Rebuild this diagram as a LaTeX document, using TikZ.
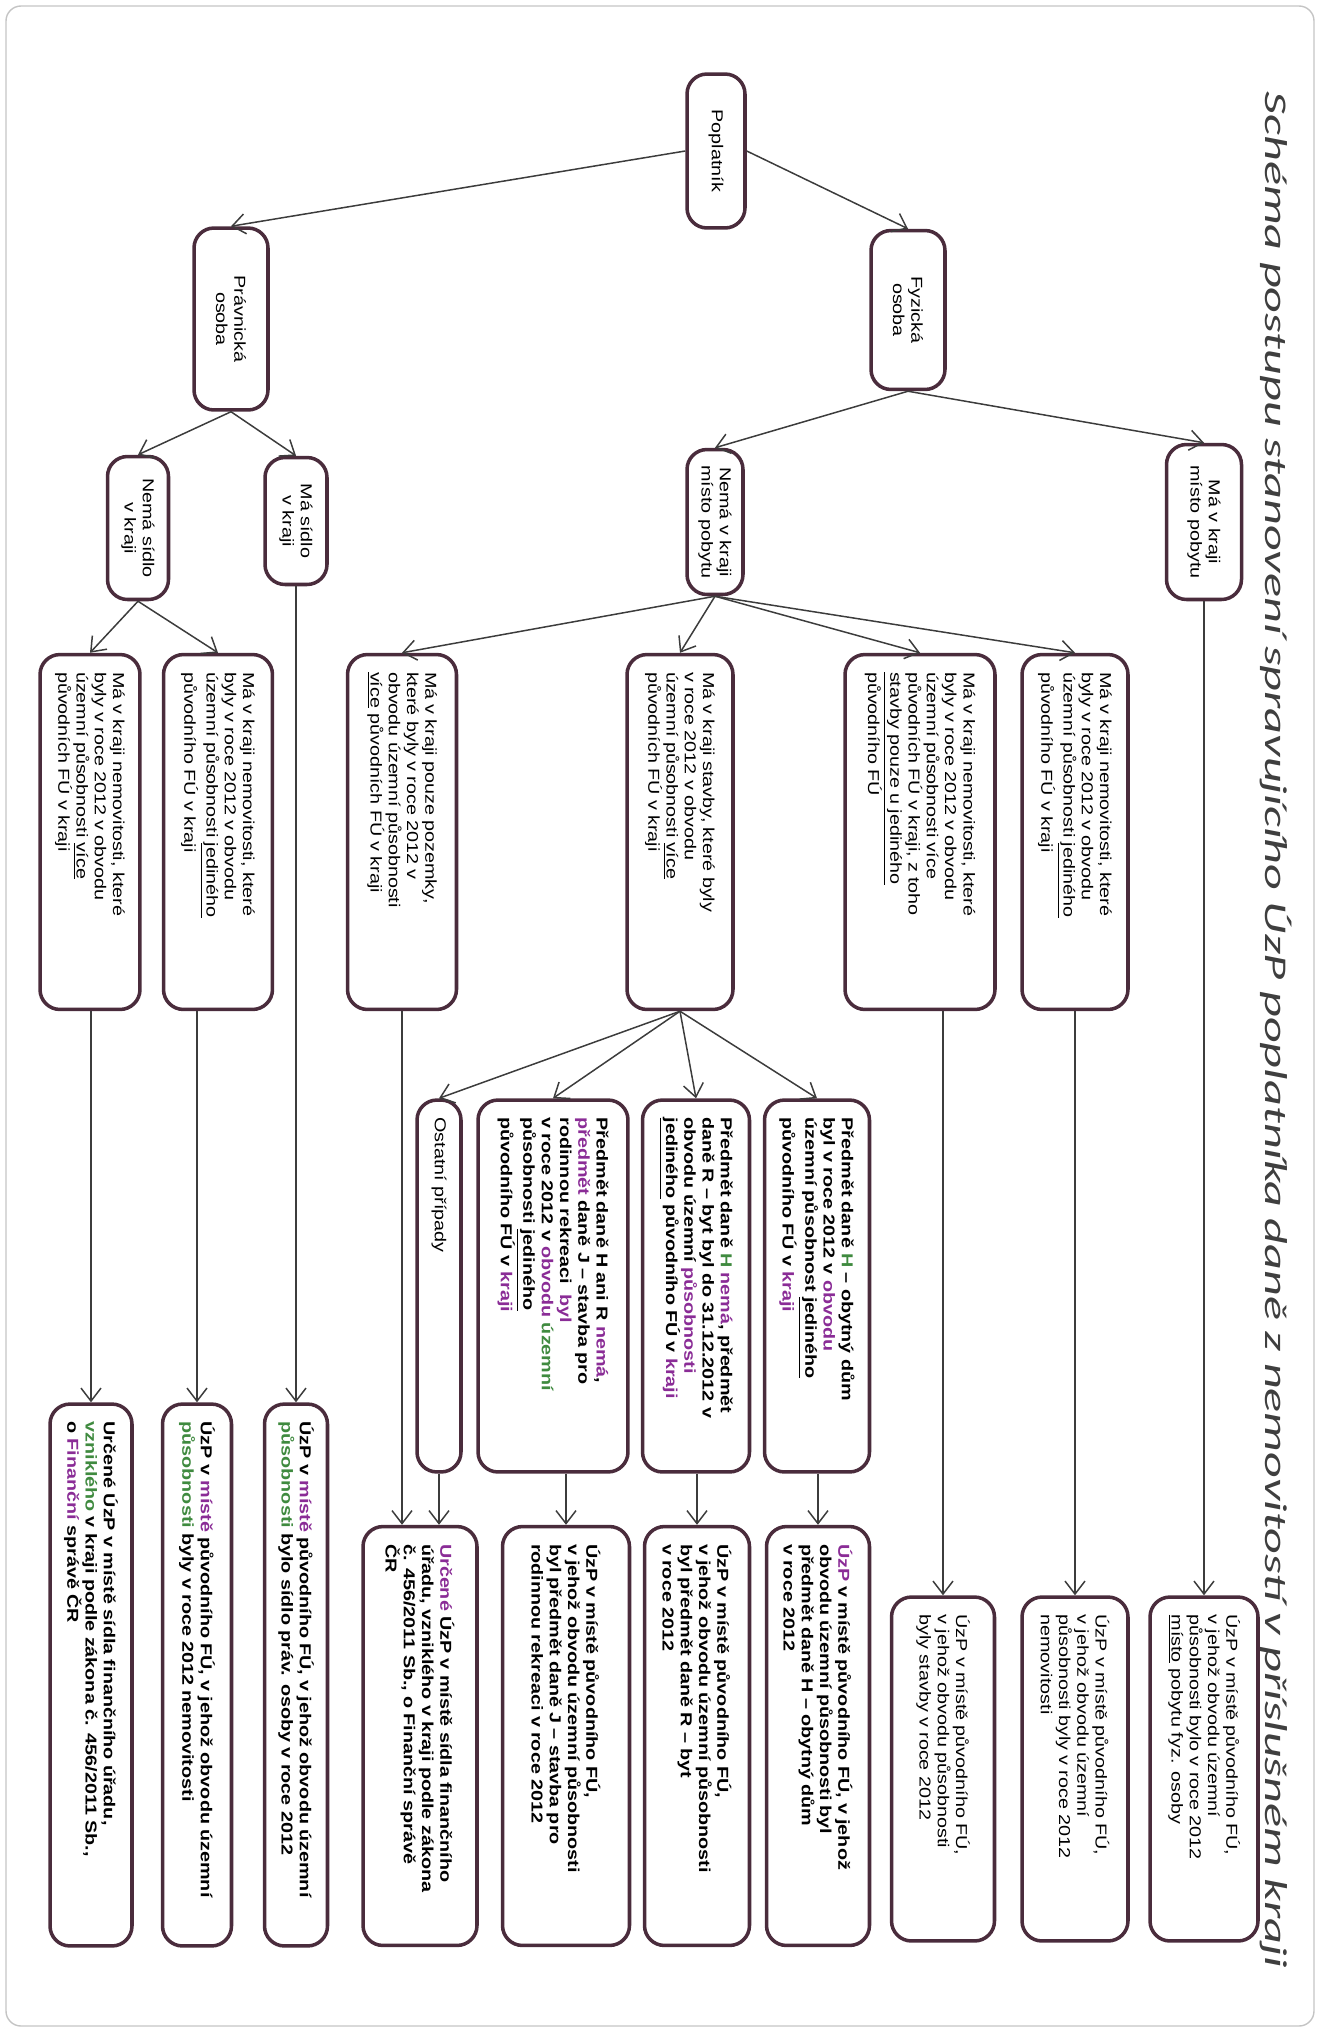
\documentclass[tikz,border=0pt]{standalone}
\usepackage{fontspec}
\setmainfont{Liberation Sans}[FakeStretch=1.25]
\newfontfamily\titlefont{Carlito}[FakeStretch=1.59]
\usetikzlibrary{arrows.meta}

\definecolor{boxline}{HTML}{4A2C3C}
\definecolor{linkgray}{HTML}{3C3C3C}
\definecolor{titlegray}{HTML}{3F3F3F}
\definecolor{framegray}{HTML}{C4C4C4}
\definecolor{hlpurple}{HTML}{8A2C96}
\definecolor{hlgreen}{HTML}{3F8A3F}
\newcommand{\hlp}[1]{\textcolor{hlpurple}{#1}}
\newcommand{\hlg}[1]{\textcolor{hlgreen}{#1}}

\begin{document}
\begin{tikzpicture}[
    x=0.02cm, y=-0.02cm,
    roundbox/.style={draw=boxline, line width=2pt, rounded corners=0.4cm, fill=white,
        rotate=-90, inner xsep=0.35cm, inner ysep=0.1cm, font=\fontsize{9}{10.4}\selectfont},
    smallbox/.style={roundbox, align=center, inner xsep=0.15cm},
    textbox/.style={roundbox, align=left},
    boldbox/.style={textbox, font=\fontsize{9}{10.4}\selectfont\bfseries},
    link/.style={draw=linkgray, line width=0.85pt, -{Straight Barb[length=2.6mm,width=4mm]}},
]
    \useasboundingbox (0, 0) rectangle (1321, 2032);
    \draw [framegray, line width=0.8pt, rounded corners=0.3cm] (6, 6) rectangle (1314, 2026);

    % Title
    \node at (1276, 1030) [rotate=-90, text=titlegray, font=\titlefont\itshape\fontsize{18}{22}\selectfont](title)
        {Schéma postupu stanovení spravujícího ÚzP poplatníka daně z nemovitostí v příslušném kraji};

    % Level 1 and 2
    \node at (716, 151) [smallbox, minimum width=3.08cm, minimum height=1.16cm](poplatnik){Poplatník};
    \node at (908, 310) [smallbox, minimum width=3.18cm, minimum height=1.48cm](fyzicka){Fyzická\\osoba};
    \node at (231, 319) [smallbox, minimum width=3.64cm, minimum height=1.48cm](pravnicka){Právnická\\osoba};

    % Level 3
    \node at (1204, 522) [smallbox, minimum width=3.1cm, minimum height=1.5cm](ma_pobyt){Má v kraji\\místo pobytu};
    \node at (715, 522) [smallbox, minimum width=2.9cm, minimum height=1.12cm](nema_pobyt){Nemá v kraji\\místo pobytu};
    \node at (296, 521) [smallbox, minimum width=2.54cm, minimum height=1.24cm](ma_sidlo){Má sídlo\\v kraji};
    \node at (138, 528) [smallbox, minimum width=2.86cm, minimum height=1.22cm](nema_sidlo){Nemá sídlo\\v kraji};

    % Level 4
    \node at (1075, 832) [textbox, text width=6.4cm, minimum height=2.12cm](nem_jed){Má v kraji nemovitosti, které\\byly v roce 2012 v obvodu\\územní působnosti \underline{jediného}\\původního FÚ v kraji};
    \node at (920, 832) [textbox, text width=6.4cm, minimum height=3.0cm](stavby_jed){Má v kraji nemovitosti, které\\byly v roce 2012 v obvodu\\územní působnosti více\\původních FÚ v kraji, z toho\\\underline{stavby pouze u jediného}\\původního FÚ};
    \node at (680, 832) [textbox, text width=6.4cm, minimum height=2.12cm](stavby_vice){Má v kraji stavby, které byly\\v roce 2012 v obvodu\\územní působnosti \underline{více}\\původních FÚ v kraji};
    \node at (402, 832) [textbox, text width=6.4cm, minimum height=2.18cm](pozemky){Má v kraji pouze pozemky,\\které byly v roce 2012 v\\obvodu územní působnosti\\\underline{více} původních FÚ v kraji};
    \node at (218, 832) [textbox, text width=6.4cm, minimum height=2.18cm](po_jed){Má v kraji nemovitosti, které\\byly v roce 2012 v obvodu\\územní působnosti \underline{jediného}\\původního FÚ v kraji};
    \node at (90, 832) [textbox, text width=6.4cm, minimum height=2.0cm](po_vice){Má v kraji nemovitosti, které\\byly v roce 2012 v obvodu\\územní působnosti \underline{více}\\původních FÚ v kraji};

    % Level 5
    \node at (817, 1286) [boldbox, text width=6.74cm, minimum height=2.1cm](dan_h){Předmět daně \hlg{H} – obytný dům\\byl v roce 2012 v \hlp{obvodu}\\územní působnost \underline{jediného}\\původního FÚ v \hlp{kraji}};
    \node at (696, 1286) [boldbox, text width=6.74cm, minimum height=2.14cm](dan_r){Předmět daně \hlg{H} \hlp{nemá}, předmět\\daně R – byt byl do 31.12.2012 v\\obvodu územní \hlp{působnosti}\\\underline{jediného} původního FÚ v \hlp{kraji}};
    \node at (553, 1286) [boldbox, text width=6.74cm, minimum height=3.0cm](dan_j){Předmět daně H ani R \hlp{nemá},\\\hlp{předmět} daně J – stavba pro\\rodinnou rekreaci\ \ \hlp{byl}\\v roce 2012 v \hlp{obvodu} \hlg{územní}\\působnosti \underline{jediného}\\původního FÚ v \hlp{kraji}};
    \node at (439, 1286) [textbox, text width=6.74cm, minimum height=0.88cm](ostatni){Ostatní případy};

    % Results
    \node at (1204, 1769) [textbox, text width=6.18cm, minimum height=2.16cm](uzp_pobyt){ÚzP v místě původního FÚ,\\v jehož obvodu územní\\působnosti bylo v roce 2012\\\underline{místo} pobytu fyz. osoby};
    \node at (1075, 1769) [textbox, text width=6.18cm, minimum height=2.12cm](uzp_nem){ÚzP v místě původního FÚ,\\v jehož obvodu územní\\působnosti byly v roce 2012\\nemovitosti};
    \node at (943, 1769) [textbox, text width=6.18cm, minimum height=2.06cm](uzp_stavby){ÚzP v místě původního FÚ,\\v jehož obvodu působnosti\\byly stavby v roce 2012};
    \node at (818, 1736) [boldbox, text width=7.68cm, minimum height=2.06cm](uzp_h){\hlp{ÚzP} v místě původního FÚ, v jehož\\obvodu územní působnosti byl\\předmět daně H – obytný dům\\v roce 2012};
    \node at (697, 1736) [boldbox, text width=7.68cm, minimum height=2.1cm](uzp_r){ÚzP v místě původního FÚ,\\v jehož obvodu územní působnosti\\byl předmět daně R – byt\\v roce 2012};
    \node at (566, 1736) [boldbox, text width=7.68cm, minimum height=2.54cm](uzp_j){ÚzP v místě původního FÚ,\\v jehož obvodu územní působnosti\\byl předmět daně J – stavba pro\\rodinnou rekreaci v roce 2012};
    \node at (420, 1736) [boldbox, text width=7.68cm, minimum height=2.28cm](urcene_fo){\hlp{Určené} ÚzP v místě sídla finančního\\úřadu, vzniklého v kraji podle zákona\\č. 456/2011 Sb., o Finanční správě\\ČR};
    \node at (296, 1675) [boldbox, text width=10.14cm, minimum height=1.26cm](uzp_sidlo){ÚzP v \hlp{místě} původního FÚ, v jehož obvodu územní\\\hlg{působnosti} bylo sídlo práv. osoby v roce 2012};
    \node at (197, 1675) [boldbox, text width=10.14cm, minimum height=1.38cm](uzp_po_nem){ÚzP v \hlp{místě} původního FÚ, v jehož obvodu územní\\\hlg{působnosti} byly v roce 2012 nemovitosti};
    \node at (91, 1675) [boldbox, text width=10.14cm, minimum height=1.64cm](urcene_po){Určené ÚzP v místě sídla finančního úřadu,\\\hlg{vzniklého} v kraji podle zákona č. 456/2011 Sb.,\\o \hlp{Finanční} správě ČR};

    % Links
    \draw [link] (poplatnik.north) -- (fyzicka.west);
    \draw [link] (poplatnik.south) -- (pravnicka.west);
    \draw [link] (fyzicka.east) -- (ma_pobyt.west);
    \draw [link] (fyzicka.east) -- (nema_pobyt.west);
    \draw [link] (pravnicka.east) -- (ma_sidlo.west);
    \draw [link] (pravnicka.east) -- (nema_sidlo.west);
    \foreach \child in {nem_jed, stavby_jed, stavby_vice, pozemky}
        \draw [link] (nema_pobyt.east) -- (\child.west);
    \draw [link] (nema_sidlo.east) -- (po_jed.west);
    \draw [link] (nema_sidlo.east) -- (po_vice.west);
    \foreach \child in {dan_h, dan_r, dan_j, ostatni}
        \draw [link] (stavby_vice.east) -- (\child.west);

    \draw [link] (uzp_pobyt.west |- ma_pobyt.east) -- (uzp_pobyt.west);
    \draw [link] (uzp_nem.west |- nem_jed.east) -- (uzp_nem.west);
    \draw [link] (uzp_stavby.west |- stavby_jed.east) -- (uzp_stavby.west);
    \draw [link] (uzp_h.west |- dan_h.east) -- (uzp_h.west);
    \draw [link] (uzp_r.west |- dan_r.east) -- (uzp_r.west);
    \draw [link] (uzp_j.west |- dan_j.east) -- (uzp_j.west);
    \draw [link] (pozemky.east) -- (pozemky.east |- urcene_fo.west);
    \draw [link] (ostatni.east) -- (ostatni.east |- urcene_fo.west);
    \draw [link] (ma_sidlo.east) -- (ma_sidlo.east |- uzp_sidlo.west);
    \draw [link] (uzp_po_nem.west |- po_jed.east) -- (uzp_po_nem.west);
    \draw [link] (urcene_po.west |- po_vice.east) -- (urcene_po.west);
\end{tikzpicture}
\end{document}
